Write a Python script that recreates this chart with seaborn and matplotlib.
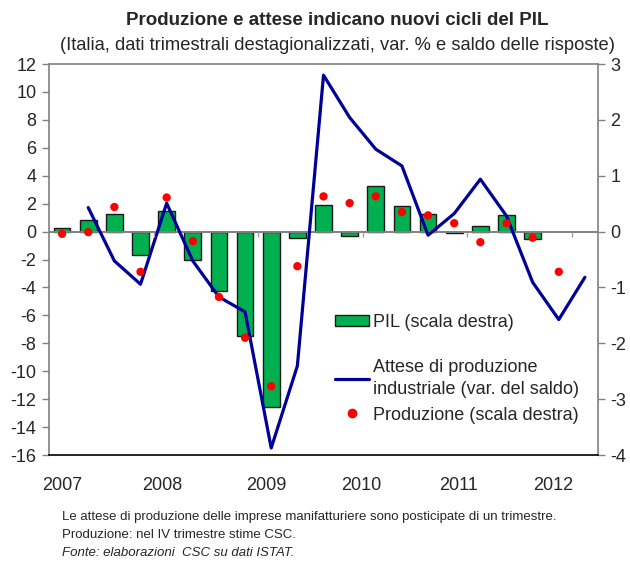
import numpy as np
import pandas as pd
import seaborn as sns
import matplotlib
import matplotlib.pyplot as plt
from matplotlib.patches import Patch
from matplotlib.lines import Line2D
matplotlib.use('Agg')

nan = np.nan

# Quarterly data, 2007 Q1 - 2012 Q1
quarters = [f'{y} {q}' for y in range(2007, 2012) for q in ['I', 'II', 'III', 'IV']] + ['2012 I']
pil = [0.07, 0.20, 0.31, -0.42, 0.36, -0.51, -1.07, -1.87, -3.14, -0.12,
       0.48, -0.08, 0.81, 0.45, 0.32, -0.02, 0.10, 0.29, -0.14, nan, nan]
produzione = [-0.04, -0.01, 0.44, -0.72, 0.61, -0.17, -1.17, -1.90, -2.77, -0.62,
              0.63, 0.51, 0.63, 0.35, 0.29, 0.15, -0.19, 0.15, -0.11, -0.72, nan]
attese = [nan, 1.72, -2.10, -3.77, 2.03, -2.10, -4.68, -5.75, -15.5, -9.62,
          11.2, 8.17, 5.90, 4.70, -0.26, 1.29, 3.75, 1.12, -3.63, -6.30, -3.27]
year_labels = ['2007', '2008', '2009', '2010', '2011', '2012']
year_pos = [0, 3.82, 7.83, 11.45, 15.16, 18.79]

df = pd.DataFrame({'trimestre': quarters, 'pos': range(len(quarters)),
                   'pil': pil, 'produzione': produzione, 'attese': attese})

sns.set_theme(style="white")
plt.rcParams['font.family'] = ['Liberation Sans', 'DejaVu Sans']
plt.rcParams['axes.unicode_minus'] = False

fig = plt.figure(figsize=(6.3, 5.63), dpi=100)
ax = fig.add_axes([0.0778, 0.1918, 0.9492 - 0.0778, 0.8863 - 0.1918])
ax2 = ax.twinx()
ax3 = ax.twinx()

# bars (right scale) at the bottom, line (left scale) in the middle, dots on top
ax2.set_zorder(1)
ax.set_zorder(2)
ax3.set_zorder(3)
ax.patch.set_visible(False)
ax3.patch.set_visible(False)

sns.barplot(data=df, x='trimestre', y='pil', order=quarters, color='#00B050',
            saturation=1, edgecolor='#1a1a1a', linewidth=1, width=0.64,
            errorbar=None, ax=ax2)
sns.lineplot(data=df, x='pos', y='attese', color='#000099', linewidth=2.3, ax=ax)
sns.scatterplot(data=df, x='pos', y='produzione', color='#FF0000', s=36,
                edgecolor='none', ax=ax3)

for a in (ax, ax2, ax3):
    a.set_xlim(-0.5, len(quarters) - 0.5)
    a.set_xlabel('')
    a.set_ylabel('')
ax.set_ylim(-16, 12)
ax2.set_ylim(-4, 3)
ax3.set_ylim(-4, 3)
ax3.set_yticks([])
for s in ax3.spines.values():
    s.set_visible(False)
for s in ax2.spines.values():
    s.set_visible(False)

ax.set_yticks(range(-16, 13, 2))
ax2.set_yticks(range(-4, 4))
ax.tick_params(axis='y', labelsize=13, length=5, width=1, color='#808080', direction='out', pad=4, left=True)
ax2.tick_params(axis='y', labelsize=13, length=5, width=1, color='#808080', direction='out', pad=4, right=True)
ax.set_xticks(year_pos, year_labels)
ax.tick_params(axis='x', labelsize=13, length=0, pad=16)

for side in ['top', 'left', 'right']:
    ax.spines[side].set_color('#808080')
    ax.spines[side].set_linewidth(1.2)
ax.spines['bottom'].set_color('#000000')
ax.spines['bottom'].set_linewidth(1.2)

# zero line of the category axis with its small ticks
ax.axhline(0, color='#808080', linewidth=1.4, zorder=0)
ax.vlines([3.5, 7.5, 11.5, 15.5, 19.5], -0.4, 0, color='#a0a0a0', linewidth=1)

# legends
leg1 = ax3.legend(handles=[Patch(facecolor='#00B050', edgecolor='#1a1a1a', linewidth=1)],
                  labels=['PIL (scala destra)'], loc='upper left',
                  bbox_to_anchor=(0.532, 0.443), bbox_transform=fig.transFigure,
                  frameon=False, fontsize=13, handlelength=1.9, handleheight=0.55,
                  handletextpad=0.2, borderpad=0, borderaxespad=0)
ax3.add_artist(leg1)
leg2 = ax3.legend(handles=[Line2D([], [], color='#000099', linewidth=2.3),
                           Line2D([], [], color='#FF0000', marker='o', markersize=6, linestyle='none')],
                  labels=['Attese di produzione\nindustriale (var. del saldo)', 'Produzione (scala destra)'],
                  loc='upper left', bbox_to_anchor=(0.532, 0.362), bbox_transform=fig.transFigure,
                  frameon=False, fontsize=13, handlelength=1.9, handletextpad=0.2,
                  labelspacing=0.45, borderpad=0, borderaxespad=0)
for t in leg2.get_texts():
    t.set_linespacing(1.4)

fig.text(0.535, 0.964, 'Produzione e attese indicano nuovi cicli del PIL',
         ha='center', va='center', fontsize=13.5, fontweight='bold')
fig.text(0.535, 0.92, '(Italia, dati trimestrali destagionalizzati, var. % e saldo delle risposte)',
         ha='center', va='center', fontsize=13.2)
fig.text(0.098, 0.082, 'Le attese di produzione delle imprese manifatturiere sono posticipate di un trimestre.',
         ha='left', va='center', fontsize=9.5)
fig.text(0.098, 0.05, 'Produzione: nel IV trimestre stime CSC.', ha='left', va='center', fontsize=9.5)
fig.text(0.098, 0.018, 'Fonte: elaborazioni  CSC su dati ISTAT.', ha='left', va='center',
         fontsize=9.5, style='italic')

fig.savefig('out.png', dpi=100, facecolor='white')
plt.close()
